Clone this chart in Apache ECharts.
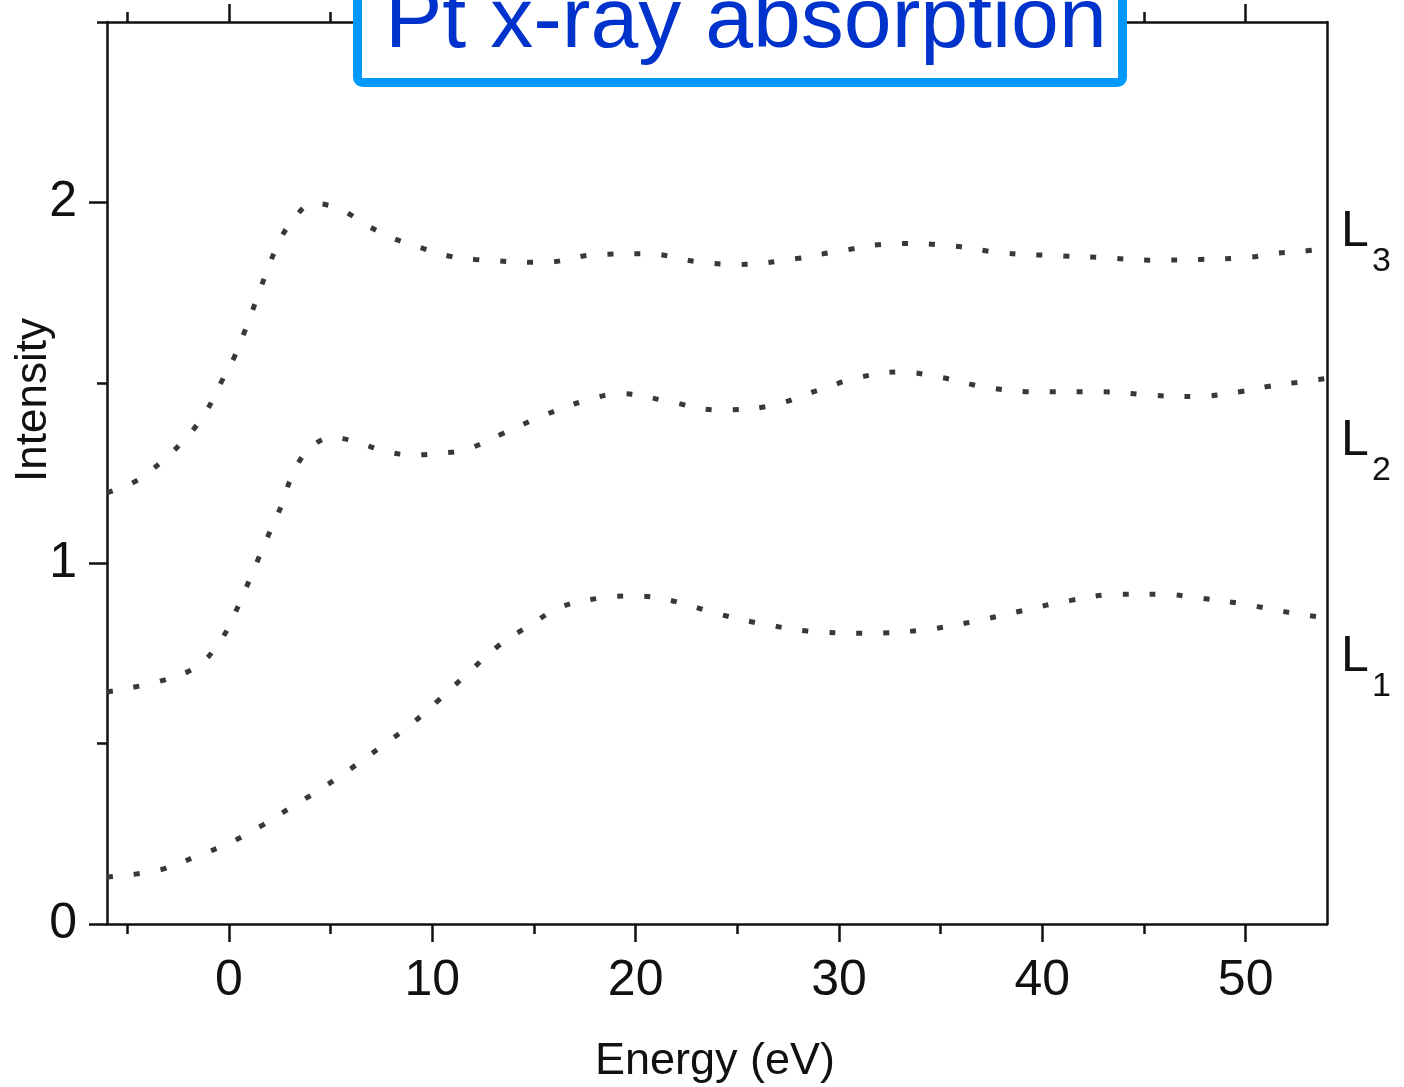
<!DOCTYPE html>
<html>
<head>
<meta charset="utf-8">
<script src="https://cdn.jsdelivr.net/npm/echarts@6/dist/echarts.min.js"></script>
<style>html,body{margin:0;padding:0;background:#fff;}#c{width:1404px;height:1087px;}</style>
</head>
<body>
<div id="c"></div>
<script>
// Energy (eV) / Intensity readings for each edge
var l3Energy = [-6, -4.6, -3.35, -2.07, -1.13, -0.4, 0.25, 0.79, 1.28, 1.77, 2.3, 3.0, 4.19, 5.5, 6.8, 8.1, 9.4, 10.7, 12.1, 15.5, 18, 20.5, 23, 25, 28, 29.5, 33, 35.5, 38, 40.4, 42.9, 45.3, 47.8, 50.2, 51.5, 52.7, 54];
var l3Intensity = [1.195, 1.227, 1.28, 1.35, 1.42, 1.50, 1.57, 1.645, 1.72, 1.795, 1.87, 1.94, 1.997, 1.98, 1.936, 1.90, 1.875, 1.853, 1.842, 1.834, 1.855, 1.858, 1.836, 1.828, 1.845, 1.86, 1.886, 1.88, 1.86, 1.853, 1.847, 1.84, 1.842, 1.848, 1.859, 1.864, 1.873];

var l2Energy = [-6, -3.2, -1.5, -0.4, 0.25, 1.48, 2.0, 2.6, 3.05, 3.84, 5.1, 6.45, 7.7, 9.1, 10.4, 11.7, 13.5, 15.5, 17.5, 19.3, 21.5, 24, 26.5, 29, 31, 33, 35, 37.5, 40, 43, 45.5, 47.5, 49.8, 51.1, 52.5, 54];
var l2Intensity = [0.643, 0.676, 0.717, 0.787, 0.856, 1.017, 1.086, 1.163, 1.235, 1.31, 1.349, 1.332, 1.31, 1.30, 1.305, 1.316, 1.36, 1.41, 1.45, 1.47, 1.45, 1.425, 1.435, 1.48, 1.515, 1.53, 1.515, 1.485, 1.475, 1.475, 1.465, 1.462, 1.476, 1.49, 1.501, 1.512];

var l1Energy = [-6, -3.4, -1.5, 0, 1.5, 2.96, 4.4, 5.9, 7.4, 8.9, 10.3, 11.8, 13.3, 14.8, 16.3, 18.2, 20, 21.7, 24.1, 26.6, 29.1, 31.5, 34, 36.5, 38.9, 41.4, 43.8, 45.8, 47.8, 50, 51.2, 52.6, 54];
var l1Intensity = [0.13, 0.15, 0.19, 0.224, 0.269, 0.32, 0.37, 0.427, 0.488, 0.551, 0.62, 0.698, 0.773, 0.828, 0.878, 0.903, 0.909, 0.897, 0.859, 0.828, 0.809, 0.806, 0.814, 0.837, 0.867, 0.897, 0.914, 0.914, 0.903, 0.886, 0.873, 0.859, 0.848];

var xMajorTicks = [0, 10, 20, 30, 40, 50];
var xMinorTicks = [-5, 5, 15, 25, 35, 45];
var yMajorTicks = [0, 1, 2];
var yMinorTicks = [0.5, 1.5, 2.5];

var titleText = 'Pt x-ray absorption';
var xName = 'Energy (eV)';
var yName = 'Intensity';
var edgeNames = ['3', '2', '1'];

function pairs(xs, ys) { return xs.map(function (x, i) { return [x, ys[i]]; }); }

var FONT = '"Liberation Sans", Arial, sans-serif';
var INK = '#111';
var axisLineStyle = { color: INK, width: 2.5 };

var chart = echarts.init(document.getElementById('c'), null, { renderer: 'canvas' });

function xAx(pos, ticks, len, showLine, labels) {
  return {
    type: 'value', position: pos, min: -6, max: 54,
    axisLine: { show: showLine, onZero: false, lineStyle: axisLineStyle },
    axisTick: { show: true, customValues: ticks, length: len, lineStyle: { color: INK, width: 2.5 } },
    axisLabel: labels ? { show: true, customValues: ticks, fontSize: 50, fontFamily: FONT, color: INK, margin: 32 } : { show: false },
    splitLine: { show: false }
  };
}
function yAx(pos, ticks, len, showLine, labels) {
  return {
    type: 'value', position: pos, min: 0, max: 2.5,
    axisLine: { show: showLine, onZero: false, lineStyle: axisLineStyle },
    axisTick: ticks ? { show: true, customValues: ticks, length: len, lineStyle: { color: INK, width: 2.5 } } : { show: false },
    axisLabel: labels ? { show: true, customValues: ticks, fontSize: 50, fontFamily: FONT, color: INK, margin: 30 } : { show: false },
    splitLine: { show: false }
  };
}

var lineStyle = { color: '#383838', width: 5, type: [6, 21], cap: 'butt' };
function series(name, data) {
  return {
    name: name, type: 'line', data: data, smooth: 0.4, showSymbol: false, symbol: 'none',
    lineStyle: lineStyle, xAxisIndex: 0, yAxisIndex: 0, animation: false, clip: true
  };
}

function edgeLabel(yBase, sub) {
  return [
    { type: 'text', x: 1341, y: yBase - 15, style: { text: 'L', fontSize: 50, fontFamily: FONT, fill: INK, align: 'left', verticalAlign: 'middle' } },
    { type: 'text', x: 1372, y: yBase + 15, style: { text: sub, fontSize: 34, fontFamily: FONT, fill: INK, align: 'left', verticalAlign: 'middle' } }
  ];
}

var option = {
  backgroundColor: '#fff',
  animation: false,
  grid: { left: 107, right: 77, top: 22, bottom: 163, containLabel: false },
  xAxis: [
    xAx('bottom', xMajorTicks, 18, true, true),
    xAx('bottom', xMinorTicks, 10, false, false),
    xAx('top', xMajorTicks, 18, true, false),
    xAx('top', xMinorTicks, 10, false, false)
  ],
  yAxis: [
    yAx('left', yMajorTicks, 18, true, true),
    yAx('left', yMinorTicks, 10, false, false),
    yAx('right', null, 0, true, false)
  ],
  series: [
    series('L3', pairs(l3Energy, l3Intensity)),
    series('L2', pairs(l2Energy, l2Intensity)),
    series('L1', pairs(l1Energy, l1Intensity))
  ],
  graphic: [
    { type: 'text', x: 715, y: 1062, style: { text: xName, fontSize: 45, fontFamily: FONT, fill: INK, align: 'center', verticalAlign: 'middle' } },
    { type: 'text', x: 34, y: 400, rotation: Math.PI / 2, style: { text: yName, fontSize: 44, fontFamily: FONT, fill: INK, align: 'center', verticalAlign: 'middle' } }
  ].concat(edgeLabel(247, edgeNames[0]), edgeLabel(456, edgeNames[1]), edgeLabel(672, edgeNames[2]), [
    { type: 'rect', z: 100, shape: { x: 357.5, y: -30, width: 765, height: 112.5, r: 5 }, style: { fill: '#fff', stroke: '#0099ff', lineWidth: 9 } },
    { type: 'text', z: 101, x: 385, y: 23, style: { text: titleText, fontSize: 86, fontFamily: FONT, fill: '#0033cc', align: 'left', verticalAlign: 'middle' } }
  ])
};
chart.setOption(option);
</script>
</body>
</html>
